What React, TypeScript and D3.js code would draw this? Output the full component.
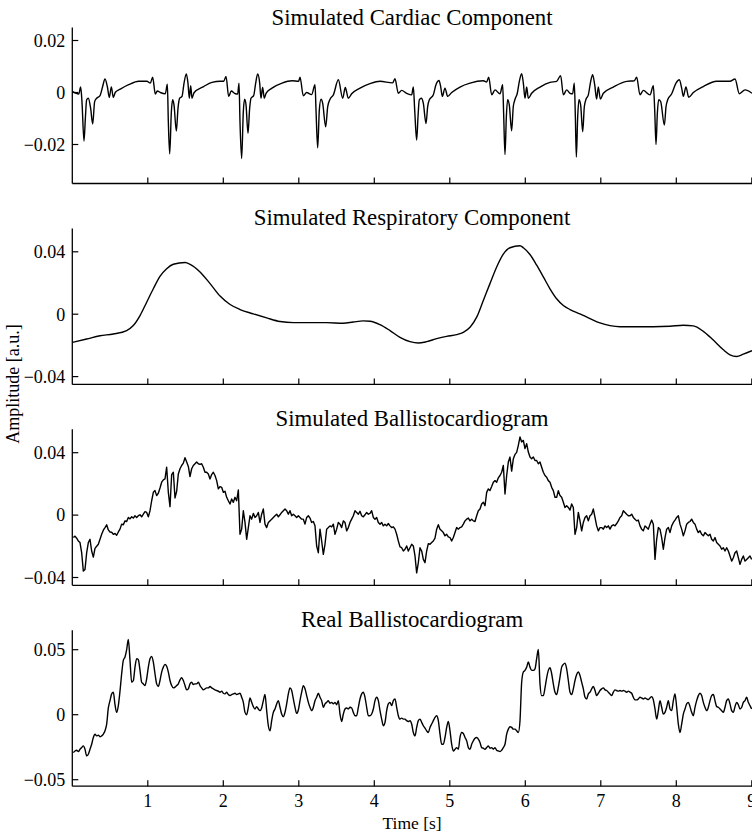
import React from "react";
import * as d3 from "d3";

// ---------- data ----------
const timeTicks = [1, 2, 3, 4, 5, 6, 7, 8, 9];
const timeDomain = [0, 9];

const panelTitles = [
  "Simulated Cardiac Component",
  "Simulated Respiratory Component",
  "Simulated Ballistocardiogram",
  "Real Ballistocardiogram",
];

const cardiacTicks = [-0.02, 0, 0.02];
const respiratoryTicks = [-0.04, 0, 0.04];
const simulatedBcgTicks = [-0.04, 0, 0.04];
const realBcgTicks = [-0.05, 0, 0.05];

const cardiacDomain = [-0.035, 0.025];
const respiratoryDomain = [-0.045, 0.055];
const simulatedBcgDomain = [-0.045, 0.055];
const realBcgDomain = [-0.055, 0.065];

// [time s, amplitude a.u.]
const cardiacComponent: [number, number][] = [
  [0.0, 0.0004], [0.04, -0.0002], [0.085, -0.0006], [0.111, 0.0021], [0.128, -0.0035],
  [0.155, -0.0187], [0.173, -0.0099], [0.19, -0.0028], [0.212, -0.0022], [0.243, -0.0061],
  [0.27, -0.0121], [0.296, -0.0035], [0.323, -0.0022], [0.367, -0.0012], [0.402, 0.0023],
  [0.433, 0.0052], [0.464, 0.0023], [0.49, -0.0019], [0.517, 0.0021], [0.543, -0.0019],
  [0.57, 0.0001], [0.636, 0.0013], [0.747, 0.003], [0.879, 0.0043], [0.989, 0.0043],
  [1.034, 0.0036], [1.064, 0.0059], [1.1, -0.0006], [1.126, 0.0006], [1.166, 0.0],
  [1.232, -0.0005], [1.259, 0.0032], [1.272, -0.0112], [1.29, -0.0236], [1.312, -0.0074],
  [1.329, -0.0028], [1.347, -0.0048], [1.378, -0.0148], [1.4, -0.0061], [1.422, -0.0022],
  [1.453, -0.0015], [1.48, 0.0036], [1.51, 0.0071], [1.532, 0.0036], [1.55, -0.0022],
  [1.568, 0.0026], [1.585, -0.0022], [1.612, -0.0001], [1.74, 0.0023], [1.85, 0.0039],
  [1.961, 0.0043], [2.005, 0.0043], [2.036, 0.0062], [2.071, -0.0015], [2.106, 0.0006],
  [2.15, -0.0003], [2.19, -0.0006], [2.208, 0.0036], [2.221, -0.0112], [2.243, -0.0254],
  [2.265, -0.0074], [2.283, -0.0026], [2.301, -0.0048], [2.327, -0.0157], [2.349, -0.0061],
  [2.367, -0.0022], [2.402, -0.0012], [2.429, 0.0036], [2.455, 0.0071], [2.482, 0.0036],
  [2.499, -0.0022], [2.521, 0.0019], [2.543, -0.0022], [2.566, -0.0003], [2.645, 0.0017],
  [2.778, 0.0036], [2.91, 0.0045], [2.998, 0.0043], [3.016, 0.0059], [3.06, -0.0013],
  [3.104, 0.0], [3.17, -0.0008], [3.215, 0.003], [3.228, -0.0067], [3.25, -0.0213],
  [3.272, -0.0067], [3.294, -0.0026], [3.316, -0.0041], [3.356, -0.0132], [3.383, -0.0054],
  [3.414, -0.0026], [3.458, -0.0009], [3.524, 0.0049], [3.581, -0.0022], [3.616, 0.0019],
  [3.656, -0.0022], [3.7, -0.0005], [3.811, 0.0017], [3.943, 0.0034], [4.075, 0.0043],
  [4.243, 0.0037], [4.274, 0.0053], [4.318, -0.0003], [4.362, 0.0008], [4.429, -0.0003],
  [4.495, -0.0009], [4.517, 0.0021], [4.535, -0.0067], [4.561, -0.0183], [4.579, -0.0093],
  [4.596, -0.0028], [4.623, -0.0022], [4.649, -0.0041], [4.685, -0.0119], [4.707, -0.0054],
  [4.729, -0.0028], [4.782, -0.0009], [4.817, 0.003], [4.857, 0.0046], [4.879, 0.0023],
  [4.901, -0.0015], [4.936, 0.0017], [4.972, -0.0015], [5.025, 0.0], [5.135, 0.0021],
  [5.268, 0.0036], [5.444, 0.0045], [5.488, 0.004], [5.515, 0.0059], [5.555, -0.0009],
  [5.599, 0.001], [5.665, -0.0005], [5.7, 0.003], [5.713, -0.008], [5.731, -0.0239],
  [5.749, -0.0093], [5.766, -0.0028], [5.788, -0.0048], [5.819, -0.0147], [5.841, -0.0054],
  [5.864, -0.0026], [5.894, -0.0003], [5.921, 0.0043], [5.952, 0.0072], [5.974, 0.0036],
  [5.996, -0.0022], [6.018, 0.0021], [6.04, -0.0022], [6.084, -0.0003], [6.195, 0.0021],
  [6.327, 0.0039], [6.415, 0.0043], [6.468, 0.0065], [6.504, -0.0009], [6.548, 0.001],
  [6.592, -0.0003], [6.627, -0.0005], [6.649, 0.0036], [6.663, -0.0093], [6.676, -0.0248],
  [6.694, -0.0093], [6.711, -0.0028], [6.733, -0.0048], [6.76, -0.0151], [6.782, -0.0054],
  [6.804, -0.0026], [6.835, -0.0009], [6.866, 0.0043], [6.892, 0.0068], [6.919, 0.003],
  [6.945, -0.0025], [6.967, 0.0021], [6.994, -0.0025], [7.034, -0.0003], [7.166, 0.0021],
  [7.343, 0.0043], [7.444, 0.0045], [7.475, 0.0059], [7.519, -0.0009], [7.563, 0.0008],
  [7.652, -0.0009], [7.696, 0.0026], [7.714, -0.0067], [7.731, -0.02], [7.749, -0.008],
  [7.766, -0.0028], [7.793, -0.0035], [7.842, -0.0125], [7.864, -0.0054], [7.886, -0.0028],
  [7.939, -0.0005], [7.996, 0.0036], [8.04, 0.0049], [8.071, 0.0017], [8.093, -0.0015],
  [8.128, 0.0021], [8.164, -0.0018], [8.226, 0.0], [8.358, 0.0023], [8.535, 0.0043],
  [8.711, 0.0043], [8.778, 0.0052], [8.835, -0.0005], [8.91, 0.001], [9.003, -0.0003],
];

const respiratoryComponent: [number, number][] = [
  [0.0, -0.0181], [0.19, -0.0159], [0.367, -0.0138], [0.543, -0.0127], [0.72, -0.0105],
  [0.808, -0.0073], [0.897, -0.0009], [0.985, 0.0077], [1.073, 0.0163], [1.161, 0.0243],
  [1.25, 0.0292], [1.338, 0.032], [1.493, 0.0331], [1.56, 0.032], [1.692, 0.0271],
  [1.825, 0.0196], [1.957, 0.0116], [2.09, 0.0062], [2.222, 0.003], [2.398, 0.0002],
  [2.575, -0.0024], [2.751, -0.0047], [2.928, -0.0054], [3.148, -0.0054], [3.369, -0.0054],
  [3.59, -0.0058], [3.722, -0.005], [3.855, -0.0043], [3.943, -0.0045], [4.075, -0.0067],
  [4.208, -0.0105], [4.34, -0.0148], [4.473, -0.0176], [4.583, -0.0185], [4.694, -0.0176],
  [4.826, -0.0157], [4.958, -0.0142], [5.091, -0.0131], [5.179, -0.0116], [5.268, -0.0084],
  [5.356, -0.0019], [5.444, 0.0088], [5.532, 0.0196], [5.621, 0.0303], [5.709, 0.0385],
  [5.797, 0.0426], [5.93, 0.0439], [5.974, 0.0426], [6.062, 0.0383], [6.151, 0.0314],
  [6.239, 0.0239], [6.327, 0.0163], [6.415, 0.0099], [6.504, 0.0056], [6.592, 0.003],
  [6.724, 0.0002], [6.857, -0.0028], [6.989, -0.0056], [7.122, -0.0073], [7.254, -0.008],
  [7.475, -0.008], [7.696, -0.008], [7.917, -0.0077], [8.093, -0.0071], [8.226, -0.0075],
  [8.358, -0.011], [8.49, -0.0166], [8.623, -0.0228], [8.711, -0.026], [8.8, -0.0271],
  [8.888, -0.0256], [9.003, -0.0234],
];

// ballistocardiograms: evenly sampled from bcgStart every bcgStep seconds
const bcgStart = 0.0137;
const bcgStep = 0.022075;

const simulatedBcg = [
  -0.0144, -0.0135, -0.0148, -0.0166, -0.0176, -0.0241, -0.0359, -0.0348, -0.0241, -0.0176,
  -0.0155, -0.023, -0.0269, -0.0213, -0.02, -0.0187, -0.0155, -0.0123, -0.0097, -0.008,
  -0.0062, -0.0095, -0.0108, -0.011, -0.0123, -0.0118, -0.0129, -0.0108, -0.009, -0.0058,
  -0.0062, -0.0037, -0.0041, -0.0015, -0.0024, -0.0011, -0.0019, -0.0004, -0.0015, -0.0004,
  0.0002, -0.0011, 0.0006, 0.0022, 0.0017, -0.0011, 0.0028, 0.0092, 0.0146, 0.0157,
  0.0125, 0.014, 0.0174, 0.0211, 0.0226, 0.0232, 0.0307, 0.0146, 0.0054, 0.026,
  0.0275, 0.011, 0.0153, 0.0264, 0.0297, 0.0318, 0.0333, 0.0368, 0.034, 0.0312,
  0.0247, 0.0297, 0.0318, 0.0329, 0.034, 0.0329, 0.0325, 0.0329, 0.0307, 0.0275,
  0.0275, 0.0264, 0.0232, 0.026, 0.0275, 0.0254, 0.0221, 0.0168, 0.0183, 0.0178,
  0.0146, 0.0153, 0.0114, 0.0092, 0.0071, 0.0103, 0.0082, 0.0114, 0.0092, 0.0161,
  -0.0123, -0.009, 0.0028, -0.0047, -0.0155, -0.008, -0.0004, -0.0026, 0.0011, -0.0015,
  -0.0004, 0.0017, -0.0047, 0.0006, 0.0039, -0.0058, -0.008, -0.0047, -0.0037, -0.0026,
  -0.0015, -0.0004, 0.0006, -0.0011, 0.0002, 0.0017, 0.0028, 0.0039, 0.0028, 0.0006,
  0.0028, -0.0004, 0.0006, -0.0004, -0.0015, -0.0004, -0.0015, -0.0026, -0.0026, -0.0058,
  -0.0015, -0.0004, -0.0019, -0.0047, -0.0041, -0.0069, -0.0198, -0.0241, -0.009, -0.0166,
  -0.0252, -0.0187, -0.009, -0.008, -0.0069, -0.0075, -0.0058, -0.0123, -0.009, -0.0047,
  -0.0058, -0.008, -0.0037, -0.0047, -0.0101, -0.008, -0.0047, -0.0026, -0.0004, 0.0028,
  0.0017, 0.0006, 0.0024, -0.0004, -0.0011, 0.0002, 0.0017, 0.0006,
  0.0011, 0.0028, -0.0015, -0.0026, -0.0015, -0.0047, -0.0058, -0.0047, -0.0069, -0.0058,
  -0.0069, -0.0054, -0.0069, -0.008, -0.0075, -0.009, -0.0123, -0.0166, -0.0204, -0.0209,
  -0.023, -0.0219, -0.0198, -0.023, -0.0209, -0.0187, -0.0198, -0.0262, -0.037, -0.0305,
  -0.0209, -0.023, -0.0284, -0.0305, -0.023, -0.0183, -0.0187, -0.0176, -0.0166, -0.0148,
  -0.009, -0.0062, -0.009, -0.0101, -0.0112, -0.0133, -0.0123, -0.014, -0.0144, -0.0166,
  -0.0144, -0.0112, -0.008, -0.009, -0.008, -0.0075, -0.0058, -0.0037, -0.0026, -0.0019,
  -0.0037, -0.0026, -0.0037, -0.0041, -0.0004, 0.0028, 0.0039, 0.0071, 0.0082, 0.006,
  0.0146, 0.0168, 0.0157, 0.0183, 0.0211, 0.0221, 0.0211, 0.0239, 0.0254, 0.0275,
  0.0318, 0.0135, 0.0254, 0.034, 0.0372, 0.0282, 0.0361, 0.0389, 0.0402, 0.0447,
  0.0501, 0.0469, 0.0479, 0.0426, 0.0458, 0.0404, 0.0372, 0.0361, 0.0372, 0.035,
  0.035, 0.0329, 0.034, 0.0307, 0.0275, 0.0254, 0.0243, 0.0221, 0.0211, 0.0178,
  0.0157, 0.0114, 0.0114, 0.0157, 0.0125, 0.0114, 0.0082, 0.0049, 0.006, 0.0049,
  0.0032, 0.0071, 0.0049, -0.0123, -0.008, 0.0017, -0.0037, -0.0101, -0.0047, -0.0015,
  -0.0004, -0.0037, -0.0004, 0.0006, 0.0039, -0.0015, -0.0069, -0.0101, -0.008, -0.008,
  -0.009, -0.0069, -0.008, -0.0069, -0.009, -0.0069, -0.0062, -0.0069, -0.0054, -0.0037,
  -0.0015, -0.0004, 0.0028, 0.0017, 0.0006, -0.0004, -0.0004, 0.0006, -0.0015, -0.0026,
  -0.0037, -0.0032, -0.0069, -0.009, -0.0101, -0.0069, -0.008, -0.009, -0.0058, -0.0032,
  -0.0058, -0.0284, -0.0155, -0.008, -0.009, -0.0144, -0.0219, -0.0144, -0.009, -0.008,
  -0.0112, -0.0069, -0.0047, -0.0032, -0.0015, -0.0004, -0.0058, -0.009, -0.0133, -0.0101,
  -0.0058, -0.0047, -0.0041, -0.0026, -0.0047, -0.0058, -0.009, -0.0112, -0.0101, -0.0123,
  -0.0133, -0.0112, -0.0123, -0.0133, -0.0123, -0.0155, -0.0166, -0.0144, -0.0176, -0.0187,
  -0.0198, -0.0219, -0.0209, -0.023, -0.0209, -0.023, -0.0262, -0.0295, -0.0273, -0.0241,
  -0.023, -0.0273, -0.0316, -0.0284, -0.0262, -0.0295, -0.0284, -0.0273, -0.0262, -0.0284,
];

const realBcg = [
  -0.0292, -0.0279, -0.0273, -0.0284, -0.0266, -0.0253, -0.024, -0.0266, -0.0317, -0.0304,
  -0.0266, -0.0227, -0.0175, -0.015, -0.0163, -0.0157, -0.017, -0.0163, -0.015, -0.0124,
  -0.0072, 0.0052, 0.0108, 0.016, 0.0173, 0.0077, 0.0018, 0.007, 0.0181, 0.0315,
  0.0418, 0.0444, 0.0501, 0.0578, 0.0418, 0.025, 0.0263, 0.0366, 0.0431, 0.0423,
  0.0341, 0.025, 0.0237, 0.0224, 0.0276, 0.0366, 0.0431, 0.0449, 0.0405, 0.0315,
  0.0237, 0.0217, 0.0263, 0.0328, 0.0366, 0.0387, 0.0372, 0.0328, 0.0263, 0.0224,
  0.0206, 0.0212, 0.0224, 0.0237, 0.0268, 0.0284, 0.0263, 0.0224, 0.0191, 0.0199,
  0.0237, 0.025, 0.0232, 0.0237, 0.0237, 0.025, 0.0224, 0.0206, 0.0191, 0.0199,
  0.0206, 0.0206, 0.0217, 0.0206, 0.0199, 0.0191, 0.0186, 0.0181, 0.0173, 0.0181,
  0.0165, 0.016, 0.0173, 0.0155, 0.0147, 0.0155, 0.016, 0.0165, 0.0155, 0.016,
  0.0165, 0.0134, 0.0095, 0.0018, 0.0, 0.0057, 0.0129, 0.0095, 0.0062, 0.0044,
  0.0062, 0.0044, 0.0031, 0.0052, 0.0108, 0.0155, 0.0031, -0.0085, -0.0124, -0.0046,
  0.0018, 0.0044, 0.0083, 0.0108, 0.0057, 0.0005, -0.0015, 0.0018, 0.0083, 0.016,
  0.0206, 0.0186, 0.0121, 0.0057, 0.001, 0.0036, 0.0108, 0.0173, 0.0224, 0.0199,
  0.0147, 0.0095, 0.0057, 0.0031, 0.0057, 0.0108, 0.0134, 0.0165, 0.0134, 0.0108,
  0.0057, 0.0083, 0.0095, 0.0108, 0.0088, 0.0095, 0.0083, 0.0095, 0.0077, 0.0108,
  0.0005, -0.0052, 0.0005, 0.0044, 0.0052, 0.0044, 0.0057, 0.0052, 0.0018, -0.0008,
  -0.0008, 0.0057, 0.0121, 0.016, 0.0173, 0.0134, 0.0057, -0.0008,
  -0.0008, 0.0005, 0.0044, 0.0108, 0.0134, 0.0108, 0.0031, -0.0034, -0.0085, -0.0059,
  0.0031, 0.0083, 0.0095, 0.007, 0.0108, 0.0121, 0.0057, -0.0008, -0.0034, -0.0026,
  -0.0034, -0.0034, -0.0046, -0.0052, -0.0046, -0.0072, -0.0137, -0.0163, -0.0098, -0.0046,
  -0.0034, -0.0059, -0.0085, -0.0103, -0.0124, -0.0137, -0.0098, -0.0072, -0.0046, -0.0021,
  -0.0008, -0.0046, -0.015, -0.0227, -0.0227, -0.0175, -0.0098, -0.0052, -0.0124, -0.0227,
  -0.0279, -0.0266, -0.0253, -0.0266, -0.0175, -0.0137, -0.0144, -0.0175, -0.0201, -0.0253,
  -0.0266, -0.0227, -0.0201, -0.0181, -0.0175, -0.0188, -0.0214, -0.0253, -0.0258, -0.0266,
  -0.0253, -0.024, -0.0258, -0.0253, -0.0266, -0.0253, -0.0273, -0.0279, -0.0284, -0.0273,
  -0.0253, -0.0227, -0.015, -0.0111, -0.0093, -0.0098, -0.0111, -0.0111, -0.0124, -0.0137,
  -0.0046, 0.025, 0.0328, 0.0341, 0.0366, 0.0405, 0.0366, 0.0341, 0.0341, 0.0353,
  0.0431, 0.0501, 0.0237, 0.0147, 0.0147, 0.0206, 0.0284, 0.0341, 0.0361, 0.0315,
  0.0237, 0.0173, 0.0155, 0.0212, 0.0289, 0.0366, 0.0387, 0.0397, 0.0353, 0.0263,
  0.0173, 0.0155, 0.0199, 0.0263, 0.031, 0.0328, 0.0302, 0.025, 0.0199, 0.0134,
  0.0121, 0.016, 0.0173, 0.0199, 0.0217, 0.0186, 0.0147, 0.0165, 0.0186, 0.0199,
  0.0206, 0.0191, 0.0186, 0.0173, 0.016, 0.0147, 0.0173, 0.0191, 0.0186, 0.0181,
  0.0186, 0.0181, 0.0186, 0.0181, 0.0173, 0.0181, 0.0173, 0.0165, 0.0134, 0.0114,
  0.0114, 0.0121, 0.0134, 0.0129, 0.0121, 0.0129, 0.0121, 0.0116, 0.0129, 0.0139,
  0.0114, 0.0044, -0.0034, 0.0031, 0.0108, 0.0057, 0.0005, 0.0018, 0.0057, 0.0108,
  0.0044, 0.0031, 0.0108, 0.016, 0.0057, -0.0072, -0.0137, -0.0072, 0.0005, 0.0044,
  0.0083, 0.0095, 0.0062, 0.0018, -0.0008, 0.0057, 0.0108, 0.0147, 0.0165, 0.0147,
  0.0095, 0.0057, 0.0031, 0.0057, 0.0108, 0.0147, 0.0155, 0.0108, 0.0062, 0.0057,
  0.0044, 0.0031, 0.0018, 0.0057, 0.0108, 0.0121, 0.0083, 0.0031, 0.0018, 0.0062,
  0.0095, 0.0077, 0.0044, 0.0057, 0.0095, 0.0108, 0.0134, 0.0095, 0.007, 0.0044,
];

// ---------- component ----------
const FONT = "'Liberation Serif', 'Times New Roman', Times, serif";

export default function App() {
  const width = 752;
  const height = 838;
  const plotLeft = 72.3;
  const plotRight = 751.8;
  const plotHeight = 156;
  const panelTops = [27.5, 228.4, 429.3, 630.2];

  const x = d3.scaleLinear().domain(timeDomain).range([plotLeft, plotRight]);

  const toPairs = (vals: number[]): [number, number][] =>
    vals.map((v, i) => [bcgStart + i * bcgStep, v]);

  const panels = [
    { title: panelTitles[0], domain: cardiacDomain, ticks: cardiacTicks, data: cardiacComponent, curve: d3.curveMonotoneX },
    { title: panelTitles[1], domain: respiratoryDomain, ticks: respiratoryTicks, data: respiratoryComponent, curve: d3.curveMonotoneX },
    { title: panelTitles[2], domain: simulatedBcgDomain, ticks: simulatedBcgTicks, data: toPairs(simulatedBcg), curve: d3.curveLinear },
    { title: panelTitles[3], domain: realBcgDomain, ticks: realBcgTicks, data: toPairs(realBcg), curve: d3.curveMonotoneX },
  ];

  const fmt = (d: number) => (d === 0 ? "0" : d3.format(".2f")(d));
  const cx = (plotLeft + plotRight) / 2;

  return (
    <svg
      width={width}
      height={height}
      style={{ position: "absolute", left: 0, top: 0, background: "#fff" }}
      fontFamily={FONT}
    >
      <rect x={0} y={0} width={width} height={height} fill="#fff" />
      {panels.map((p, i) => {
        const top = panelTops[i];
        const bottom = top + plotHeight;
        const y = d3.scaleLinear().domain(p.domain).range([bottom, top]);
        const line = d3
          .line<[number, number]>()
          .x((d) => x(d[0]))
          .y((d) => y(d[1]))
          .curve(p.curve);
        return (
          <g key={i}>
            <text x={cx} y={top - 3} textAnchor="middle" fontSize={22.8} fill="#000">
              {p.title}
            </text>
            <path d={line(p.data) || ""} fill="none" stroke="#000" strokeWidth={1.4} strokeLinejoin="round" />
            <line x1={plotLeft} x2={plotLeft} y1={top} y2={bottom} stroke="#000" strokeWidth={1.3} />
            <line x1={plotLeft} x2={width} y1={bottom} y2={bottom} stroke="#000" strokeWidth={1.3} />
            {p.ticks.map((t) => (
              <g key={t}>
                <line x1={plotLeft} x2={plotLeft + 6} y1={y(t)} y2={y(t)} stroke="#000" strokeWidth={1.2} />
                <text x={plotLeft - 7} y={y(t)} dy="0.35em" textAnchor="end" fontSize={18} fill="#000">
                  {fmt(t)}
                </text>
              </g>
            ))}
            {timeTicks.map((t) => (
              <line key={t} x1={x(t)} x2={x(t)} y1={bottom} y2={bottom - 6} stroke="#000" strokeWidth={1.2} />
            ))}
            {i === panels.length - 1 &&
              timeTicks.map((t) => (
                <text key={"l" + t} x={x(t)} y={bottom + 20.5} textAnchor="middle" fontSize={18} fill="#000">
                  {t}
                </text>
              ))}
          </g>
        );
      })}
      <text x={cx} y={829} textAnchor="middle" fontSize={17.5} fill="#000">
        Time [s]
      </text>
      <text
        transform={`translate(19, 384) rotate(-90)`}
        textAnchor="middle"
        fontSize={18}
        fill="#000"
      >
        Amplitude [a.u.]
      </text>
    </svg>
  );
}
